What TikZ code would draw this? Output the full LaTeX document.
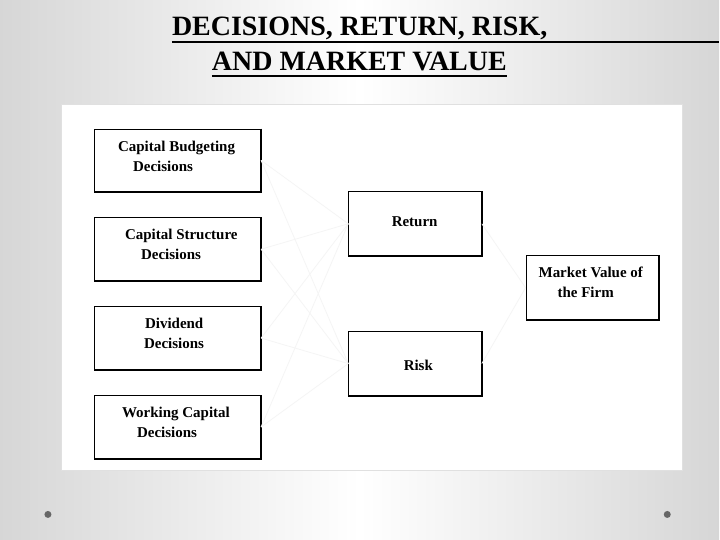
\documentclass[tikz,border=0pt]{standalone}
\usepackage{fontspec}
\setmainfont{Liberation Serif}
\begin{document}
\begin{tikzpicture}[x=1pt, y=-1pt]
\tikzset{ box/.style={draw, line width=0.7pt, inner sep=0pt, minimum width=167pt, minimum height=63pt},
          sbox/.style={box, minimum width=133pt, minimum height=64pt},
          txt/.style={anchor=base west, inner sep=0pt, font=\fontsize{15}{20}\selectfont\bfseries, align=left},
          ttl/.style={anchor=base west, inner sep=0pt, font=\fontsize{28}{30}\selectfont\bfseries},
          link/.style={black!4, line width=0.8pt},
          dot/.style={fill=black!60, circle, inner sep=0pt, minimum size=7pt} }

% slide background
\shade [left color=black!16, right color=black!16, middle color=white] (0,0) rectangle (720,540);
\draw [black!12, fill=white] (61,104) rectangle (683,471);

% title
\node [ttl] (T1) at (172,36) {DECISIONS, RETURN, RISK,};
\node [ttl] (T2) at (212,71) {AND MARKET VALUE};
\draw [line width=1.6pt] (T1.base west) ++(0,6) -- (720,42);
\draw [line width=1.6pt] (T2.base west) ++(0,5) -- ([yshift=-5pt]T2.base east);

% boxes
\node [box]  (CB)  at (177.5,160.5) {};
\node [box]  (CS)  at (177.5,249.5) {};
\node [box]  (DV)  at (177.5,338.5) {};
\node [box]  (WC)  at (177.5,427.5) {};
\node [sbox] (RET) at (415.5,224)   {};
\node [sbox] (RSK) at (415.5,364)   {};
\node [sbox] (MV)  at (593,288)     {};

\foreach \b in {CB,CS,DV,WC,RET,RSK,MV}
  \draw [line width=2pt] (\b.north east) -- (\b.south east) -- (\b.south west);

% faint links
\foreach \b in {CB,CS,DV,WC} {
  \draw [link] (\b.east) -- (RET.west);
  \draw [link] (\b.east) -- (RSK.west);
}
\draw [link] (RET.east) -- (MV.west);
\draw [link] (RSK.east) -- (MV.west);

% texts (base = last line)
\node [txt] (tCB) at (118,172) {Capital Budgeting\\\hspace*{15pt}Decisions};
\node [txt] (tCS) at (125,260) {Capital Structure\\\hspace*{16pt}Decisions};
\node [txt] (tDV) at (145,349) {Dividend\\\hspace*{-1pt}Decisions};
\node [txt] (tWC) at (122,438) {Working Capital\\\hspace*{15pt}Decisions};
\node [txt] (tRE) at (392,227) {Return};
\node [txt] (tRI) at (404,371) {Risk};
\node [txt] (tMV) at (539,298) {Market Value of\\\hspace*{19pt}the Firm};

\node [dot] (D1) at (48,515)  {};
\node [dot] (D2) at (668,515) {};

\end{tikzpicture}
\end{document}
